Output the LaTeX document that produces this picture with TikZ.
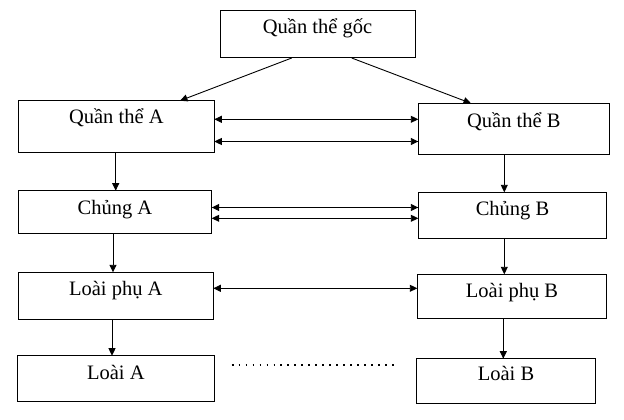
\documentclass[tikz,border=0pt]{standalone}
\usepackage{fontspec}
\setmainfont{Liberation Serif}
\usetikzlibrary{arrows.meta}
\tikzset{
  boxst/.style={draw, line width=1pt, inner sep=0pt, outer sep=0pt},
  lbl/.style={inner sep=0pt, font=\fontsize{20.5}{24}\selectfont},
  arr/.style={line width=0.9pt, -{Triangle[length=7.5pt,width=7pt]}},
  darr/.style={line width=0.9pt, {Triangle[length=7.5pt,width=7pt]}-{Triangle[length=7.5pt,width=7pt]}},
  dots/.style={line width=1.8pt, dash pattern=on 1.8pt off 5.17pt}
}
% name, left, top, right, bottom, baseline, text
\newcommand\mkbox[7]{%
  \node[boxst, anchor=north west, minimum width={(#4-#2)*1pt}, minimum height={(#5-#3)*1pt}] (#1) at (#2,#3) {};
  \node[lbl, anchor=base] (#1t) at ({(#2+#4)/2},#6) {#7};
}
\begin{document}
\begin{tikzpicture}[x=1pt,y=-1pt]
\useasboundingbox (0,0) rectangle (624,420);
\mkbox{root}{220}{10.7}{415}{58}{33.3}{Quần thể gốc}
\mkbox{qa}{18.3}{100.7}{214.3}{152.3}{123.3}{Quần thể A}
\mkbox{qb}{418.3}{103.3}{609.3}{154.3}{127.3}{Quần thể B}
\mkbox{ca}{18.3}{190.7}{211.7}{233}{214}{Chủng A}
\mkbox{cb}{418.3}{192.3}{606.7}{238}{215.7}{Chủng B}
\mkbox{pa}{18.3}{272.3}{213.3}{319.3}{295}{Loài phụ A}
\mkbox{pb}{417.3}{274.3}{606.7}{318.3}{297.3}{Loài phụ B}
\mkbox{la}{17.3}{355.7}{214.3}{401}{379}{Loài A}
\mkbox{lb}{416.7}{358.7}{595.3}{403.3}{380.7}{Loài B}
% from root
\draw[arr] ([xshift=71.7pt]root.south west) -- ([xshift=161.7pt]qa.north west);
\draw[arr] ([xshift=131.7pt]root.south west) -- ([xshift=52.7pt]qb.north west);
% vertical arrows
\draw[arr] (115.7,0 |- qa.south) -- (115.7,0 |- ca.north);
\draw[arr] (113,0 |- ca.south) -- (113,0 |- pa.north);
\draw[arr] (112,0 |- pa.south) -- (112,0 |- la.north);
\draw[arr] (504.3,0 |- qb.south) -- (504.3,0 |- cb.north);
\draw[arr] (504.3,0 |- cb.south) -- (504.3,0 |- pb.north);
\draw[arr] (503.3,0 |- pb.south) -- (503.3,0 |- lb.north);
% horizontal double arrows
\draw[darr] (qa.east |- 0,119.3) -- (qb.west |- 0,119.3);
\draw[darr] (qa.east |- 0,141.5) -- (qb.west |- 0,141.5);
\draw[darr] (ca.east |- 0,207.5) -- (cb.west |- 0,207.5);
\draw[darr] (ca.east |- 0,218.3) -- (cb.west |- 0,218.3);
\draw[darr] (pa.east |- 0,288.3) -- (pb.west |- 0,288.3);
% dotted line
\coordinate (d1) at (231.7,365);
\coordinate (d2) at (394.5,365);
\draw[dots] (d1) -- (d2);
\end{tikzpicture}
\end{document}
